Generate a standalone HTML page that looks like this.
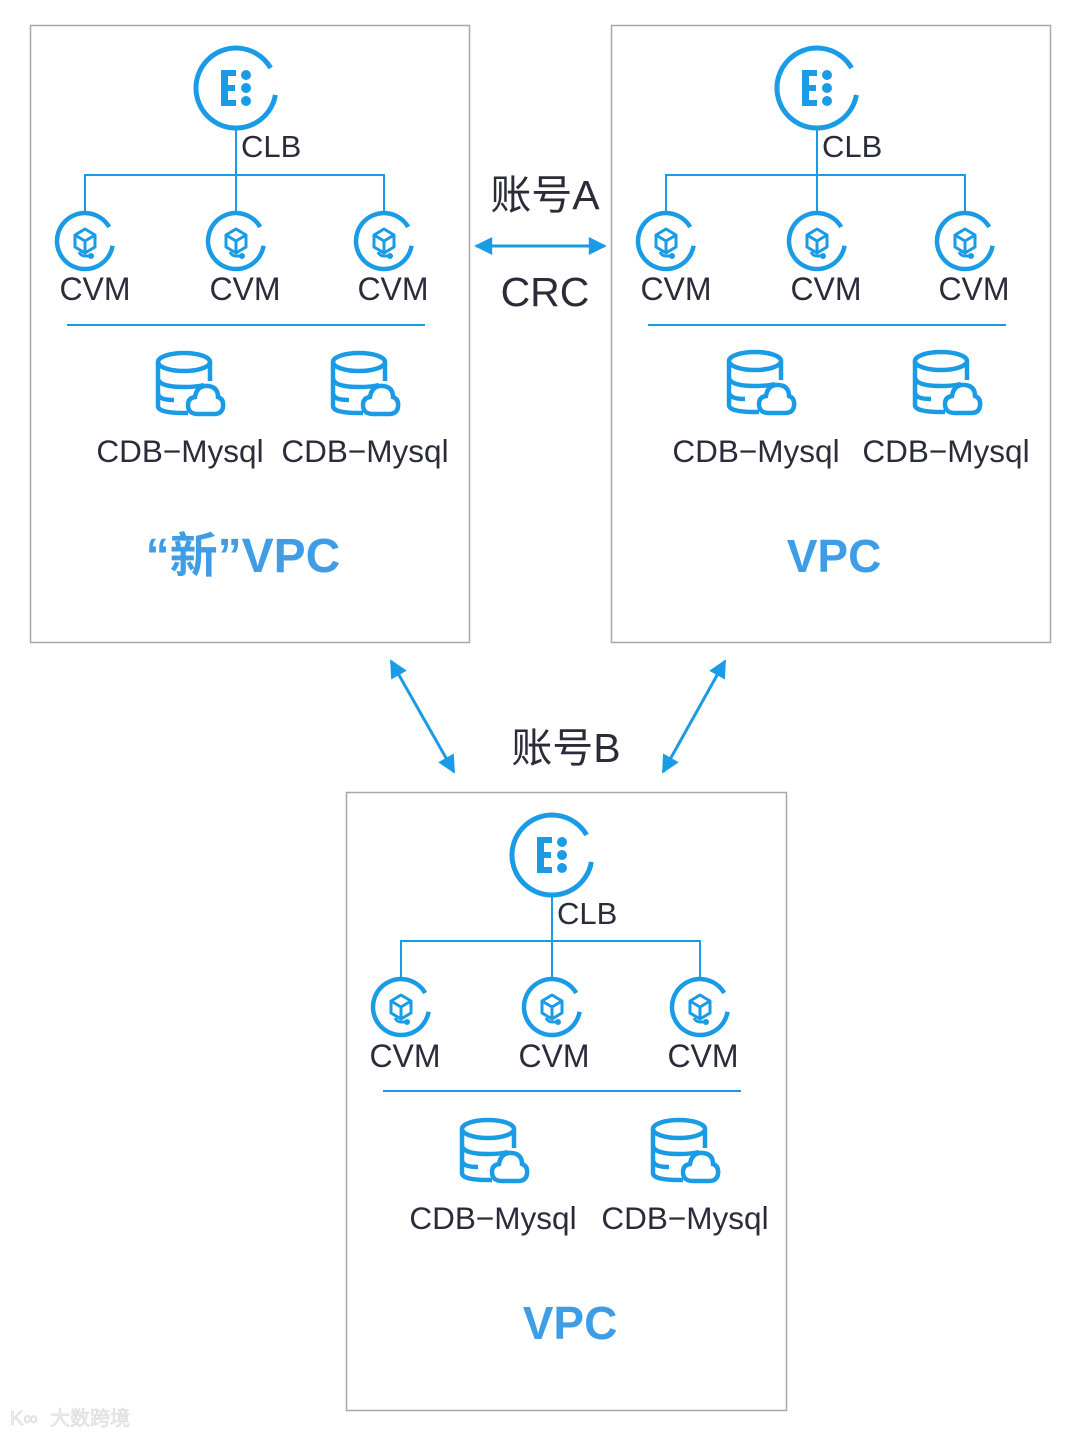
<!DOCTYPE html>
<html><head><meta charset="utf-8"><style>
html,body{margin:0;padding:0;background:#fff;}
svg{display:block}
text{font-family:"Liberation Sans","Noto Sans CJK SC",sans-serif;fill:#2b2b3a}
.v{font-weight:bold;fill:#3f9de6}
</style></head><body>
<svg width="1080" height="1437" viewBox="0 0 1080 1437" xmlns="http://www.w3.org/2000/svg">
<defs>
<marker id="ah" viewBox="0 0 10 10" refX="9" refY="5" markerWidth="6.5" markerHeight="6" orient="auto-start-reverse"><path d="M0,0 L10,5 L0,10 z" fill="#1a9be6"/></marker>
<g id="clb">
  <path d="M39.4,6.9 A40,40 0 1 1 34.6,-20" fill="none" stroke="#1a9be6" stroke-width="5"/>
  <path d="M-15,-18 H0 V-12 H-8 V-3 H-1 V3 H-8 V12 H0 V18 H-15 Z" fill="#1a9be6"/>
  <circle cx="10" cy="-13" r="5" fill="#1a9be6"/>
  <circle cx="10" cy="0" r="5" fill="#1a9be6"/>
  <circle cx="10" cy="13" r="5" fill="#1a9be6"/>
</g>
<g id="cvm" fill="none" stroke="#1a9be6">
  <path d="M27.6,4.7 A28,28 0 1 1 24.2,-14" stroke-width="4.5"/>
  <path d="M0,-12 L10,-6 V6 L0,12 L-10,6 V-6 Z M-10,-6 L0,0 L10,-6 M0,0 V12" stroke-width="3" stroke-linejoin="round"/>
  <path d="M-6,11 Q-4,15 0,15 H5" stroke-width="3"/>
  <circle cx="6" cy="15" r="2.5" fill="#1a9be6"/>
</g>
<g id="db" fill="none" stroke="#1a9be6" stroke-width="4.5">
  <ellipse cx="0" cy="-21" rx="26" ry="9"/>
  <path d="M-26,-21 V23 Q-26,30 0,30 H4 M26,-21 V-2 M-26,-5 Q-26,4 0,4 Q12,4 20,2 M-26,10 Q-26,17 -10,17"/>
  <path d="M14,31 Q4,31 4,22 Q4,15 11,14 Q13,2 24,3 Q34,4 34,14 Q40,16 39,24 Q38,31 30,31 Z" fill="#fff"/>
</g>
</defs>

<rect x="30.5" y="25.5" width="439" height="617" fill="none" stroke="#a8a8a8" stroke-width="1.5"/>
<rect x="611.5" y="25.5" width="439" height="617" fill="none" stroke="#a8a8a8" stroke-width="1.5"/>
<rect x="346.5" y="792.5" width="440" height="618" fill="none" stroke="#a8a8a8" stroke-width="1.5"/>

<g>
<use href="#clb" x="236" y="88"/>
<path d="M236,130 V213 M85,213 V175 H384 V213" fill="none" stroke="#1a9be6" stroke-width="2"/>
<text x="241" y="157" font-size="31">CLB</text>
<use href="#cvm" x="85" y="241"/><use href="#cvm" x="236" y="241"/><use href="#cvm" x="384" y="241"/>
<text x="95" y="300" font-size="32" text-anchor="middle">CVM</text>
<text x="245" y="300" font-size="32" text-anchor="middle">CVM</text>
<text x="393" y="300" font-size="32" text-anchor="middle">CVM</text>
<line x1="67" y1="325" x2="425" y2="325" stroke="#1a9be6" stroke-width="2"/>
<use href="#db" x="184" y="383"/><use href="#db" x="359" y="383"/>
<text x="180" y="462" font-size="31.5" text-anchor="middle">CDB−Mysql</text>
<text x="365" y="462" font-size="31.5" text-anchor="middle">CDB−Mysql</text>
<text x="243" y="572" font-size="48" text-anchor="middle" class="v">“新”VPC</text>
</g>

<g>
<use href="#clb" x="817" y="88"/>
<path d="M817,130 V213 M666,213 V175 H965 V213" fill="none" stroke="#1a9be6" stroke-width="2"/>
<text x="822" y="157" font-size="31">CLB</text>
<use href="#cvm" x="666" y="241"/><use href="#cvm" x="817" y="241"/><use href="#cvm" x="965" y="241"/>
<text x="676" y="300" font-size="32" text-anchor="middle">CVM</text>
<text x="826" y="300" font-size="32" text-anchor="middle">CVM</text>
<text x="974" y="300" font-size="32" text-anchor="middle">CVM</text>
<line x1="648" y1="325" x2="1006" y2="325" stroke="#1a9be6" stroke-width="2"/>
<use href="#db" x="755" y="382"/><use href="#db" x="941" y="382"/>
<text x="756" y="462" font-size="31.5" text-anchor="middle">CDB−Mysql</text>
<text x="946" y="462" font-size="31.5" text-anchor="middle">CDB−Mysql</text>
<text x="834" y="572" font-size="46" text-anchor="middle" class="v">VPC</text>
</g>

<g>
<use href="#clb" x="552" y="855"/>
<path d="M552,897 V979 M401,979 V941 H700 V979" fill="none" stroke="#1a9be6" stroke-width="2"/>
<text x="557" y="924" font-size="31">CLB</text>
<use href="#cvm" x="401" y="1007"/><use href="#cvm" x="552" y="1007"/><use href="#cvm" x="700" y="1007"/>
<text x="405" y="1067" font-size="32" text-anchor="middle">CVM</text>
<text x="554" y="1067" font-size="32" text-anchor="middle">CVM</text>
<text x="703" y="1067" font-size="32" text-anchor="middle">CVM</text>
<line x1="383" y1="1091" x2="741" y2="1091" stroke="#1a9be6" stroke-width="2"/>
<use href="#db" x="488" y="1150"/><use href="#db" x="679" y="1150"/>
<text x="493" y="1229" font-size="31.5" text-anchor="middle">CDB−Mysql</text>
<text x="685" y="1229" font-size="31.5" text-anchor="middle">CDB−Mysql</text>
<text x="570" y="1339" font-size="46" text-anchor="middle" class="v">VPC</text>
</g>

<line x1="476" y1="246" x2="605" y2="246" stroke="#1a9be6" stroke-width="3" marker-start="url(#ah)" marker-end="url(#ah)"/>
<text x="545" y="209" font-size="41" text-anchor="middle">账号A</text>
<text x="545" y="306" font-size="41" text-anchor="middle">CRC</text>
<line x1="391" y1="661" x2="454" y2="772" stroke="#1a9be6" stroke-width="3" marker-start="url(#ah)" marker-end="url(#ah)"/>
<line x1="725" y1="661" x2="663" y2="772" stroke="#1a9be6" stroke-width="3" marker-start="url(#ah)" marker-end="url(#ah)"/>
<text x="566" y="762" font-size="41" text-anchor="middle">账号B</text>

<text x="50" y="1425" font-size="20" style="fill:#eeeeee;stroke:#d8d8d8;stroke-width:0.6">大数跨境</text>
<text x="10" y="1425" font-size="20" style="fill:#eeeeee;stroke:#d8d8d8;stroke-width:0.6">K∞</text>
</svg>
</body></html>
